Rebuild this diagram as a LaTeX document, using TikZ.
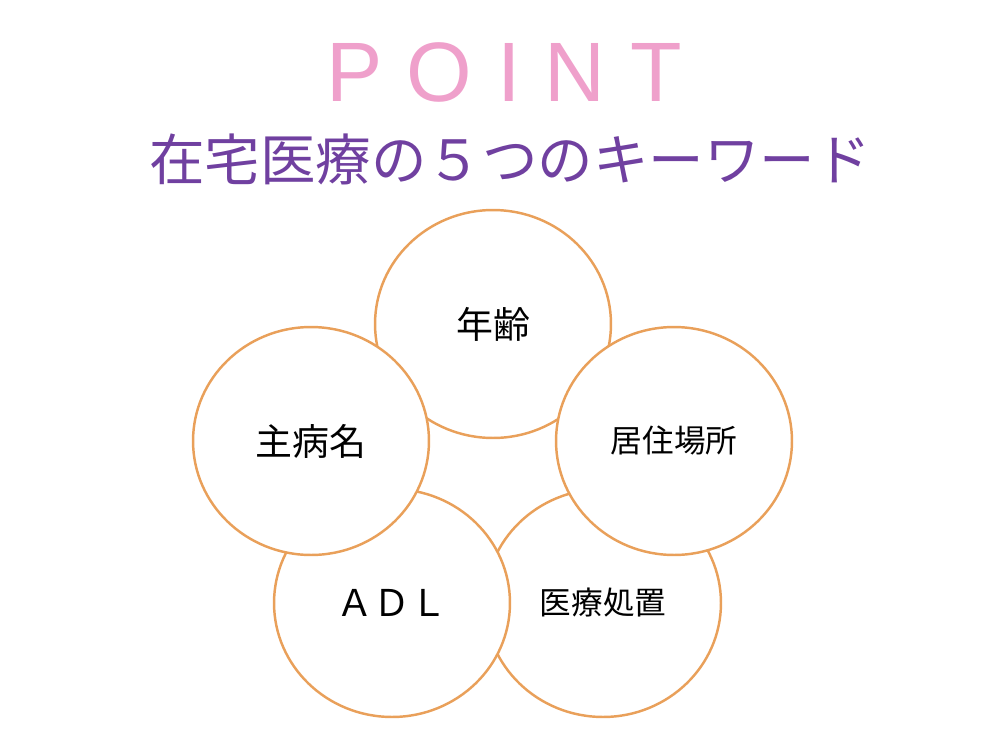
\documentclass[tikz,border=0pt]{standalone}
\usepackage{fontspec}
\usetikzlibrary{shapes.geometric}
\setmainfont{Noto Sans CJK JP}
\newfontfamily\titlefont[LetterSpace=29]{Liberation Sans}
\definecolor{ringorange}{HTML}{E9A05A}
\definecolor{pointpink}{HTML}{EFA0CB}
\definecolor{headpurple}{HTML}{7040A0}
\begin{document}
\begin{tikzpicture}[x=0.02cm, y=-0.02cm,
  key/.style={ellipse, draw=ringorange, line width=1.4pt, fill=white,
    minimum width=4.72cm, minimum height=4.56cm, inner sep=0pt,
    font=\fontsize{21}{21}\selectfont},
  smallkey/.style={key, font=\fontsize{18}{18}\selectfont}]
  \useasboundingbox (0,0) rectangle (1000,730);

  % title
  \node[text=pointpink, font=\titlefont\fontsize{48}{48}\selectfont] (point) at (504,72) {POINT};
  \node[text=headpurple, font=\fontsize{31.6}{31.6}\selectfont] (heading) at (510,159) {在宅医療の５つのキーワード};

  % keywords (back to front)
  \node[key] (age) at (493,324) {年齢};
  \node[smallkey] (care) at (603,603) {医療処置};
  \node[key] (adl) at (392,603) {ＡＤＬ};
  \node[key] (disease) at (311,441) {主病名};
  \node[smallkey] (home) at (674,441) {居住場所};
\end{tikzpicture}
\end{document}
